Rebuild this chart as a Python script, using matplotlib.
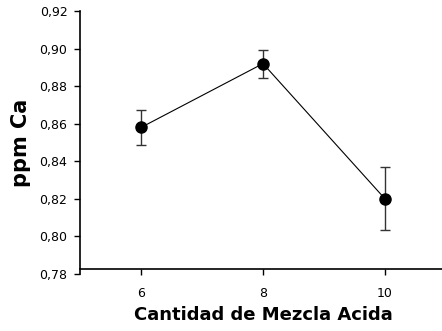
import matplotlib.pyplot as plt
import numpy as np

# Ca content vs amount of acid mix
cantidad = [6, 8, 10]
ppm_ca = [0.858, 0.892, 0.820]
error = [0.0095, 0.0075, 0.0168]

yticks = np.arange(0.78, 0.921, 0.02)
ytick_labels = ['%.2f' % v for v in yticks]
ytick_labels = [s.replace('.', ',') for s in ytick_labels]

plt.rcParams['font.family'] = 'DejaVu Sans'

fig = plt.figure(figsize=(4.42, 3.31), dpi=100)
ax = fig.add_axes([80 / 442, 57 / 331, 366 / 442, 263 / 331])

ax.errorbar(cantidad, ppm_ca, yerr=error, color='black', ecolor='#333333',
            elinewidth=1.0, capsize=3.5, capthick=1.0,
            marker='o', markersize=8, linewidth=0.8, zorder=3)

ax.set_xlim(5, 11)
ax.set_ylim(0.78, 0.92)
ax.set_xticks(cantidad)
ax.set_yticks(yticks)
ax.set_yticklabels(ytick_labels)

ax.spines['top'].set_color('none')
ax.spines['right'].set_color('none')
ax.spines['bottom'].set_position(('data', 0.7827))
ax.spines['left'].set_linewidth(1.2)
ax.spines['bottom'].set_linewidth(1.2)

ax.tick_params(axis='both', labelsize=9, length=4, width=1.0, direction='out')
ax.tick_params(axis='y', pad=5)
ax.tick_params(axis='x', pad=9)

ax.set_xlabel('Cantidad de Mezcla Acida', fontsize=13, fontweight='bold', labelpad=4)
ax.set_ylabel('ppm Ca', fontsize=15, fontweight='bold', labelpad=6)

plt.savefig('out.png', dpi=100)
